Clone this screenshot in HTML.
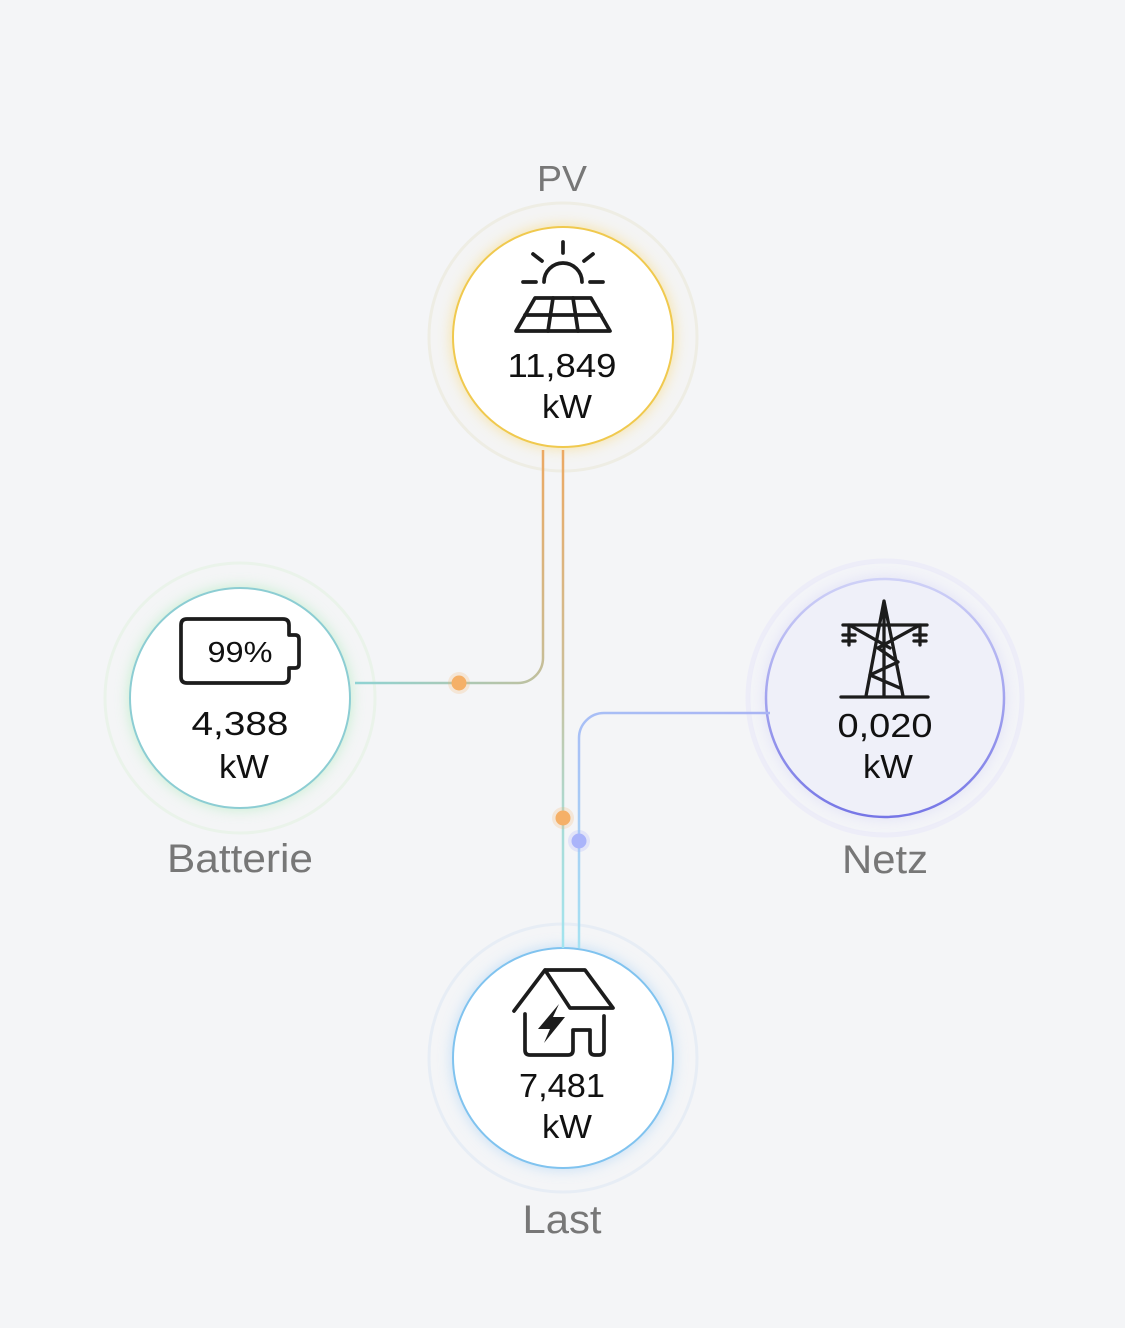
<!DOCTYPE html>
<html><head><meta charset="utf-8"><style>
html,body{margin:0;padding:0;background:#f4f5f7;}
svg{display:block;}
text{font-family:"Liberation Sans",sans-serif;}
</style></head><body>
<svg width="1125" height="1328" viewBox="0 0 1125 1328" xmlns="http://www.w3.org/2000/svg">
<defs>
  <filter id="blur" x="-30%" y="-30%" width="160%" height="160%"><feGaussianBlur stdDeviation="7"/></filter>
  <linearGradient id="g1" gradientUnits="userSpaceOnUse" x1="543" y1="450" x2="355" y2="683">
    <stop offset="0" stop-color="#eca963"/><stop offset="0.5" stop-color="#cdbb90"/><stop offset="1" stop-color="#8fd3d3"/>
  </linearGradient>
  <linearGradient id="g2" gradientUnits="userSpaceOnUse" x1="563" y1="450" x2="563" y2="948">
    <stop offset="0" stop-color="#eca963"/><stop offset="0.45" stop-color="#cdbf98"/><stop offset="0.75" stop-color="#a9dcd6"/><stop offset="1" stop-color="#a2e4f0"/>
  </linearGradient>
  <linearGradient id="g3" gradientUnits="userSpaceOnUse" x1="770" y1="713" x2="579" y2="948">
    <stop offset="0" stop-color="#a9b4f4"/><stop offset="0.5" stop-color="#a8c2f6"/><stop offset="1" stop-color="#a6e2f2"/>
  </linearGradient>
  <linearGradient id="netzStroke" x1="0" y1="0" x2="0" y2="1">
    <stop offset="0" stop-color="#cfd1f7"/><stop offset="1" stop-color="#7676e6"/>
  </linearGradient>
</defs>

<!-- outer rings -->
<circle cx="563" cy="337" r="134" fill="#f4f4f4" stroke="#eeede4" stroke-width="3"/>
<circle cx="240" cy="698" r="135" fill="#f4f5f6" stroke="#eaf3ea" stroke-width="3"/>
<circle cx="885" cy="698" r="137" fill="#f3f4f8" stroke="#ededf8" stroke-width="5"/>
<circle cx="563" cy="1058" r="134" fill="#f4f5f7" stroke="#e7edf5" stroke-width="3"/>

<!-- glows -->
<circle cx="563" cy="337" r="111" fill="#f8dd8a" filter="url(#blur)" opacity="0.8"/>
<circle cx="240" cy="698" r="111" fill="#b8ecc4" filter="url(#blur)" opacity="0.8"/>
<circle cx="885" cy="698" r="120" fill="#dcdcf6" filter="url(#blur)" opacity="0.8"/>
<circle cx="563" cy="1058" r="111" fill="#b6d8f6" filter="url(#blur)" opacity="0.8"/>

<!-- inner circles -->
<circle cx="563" cy="337" r="110" fill="#ffffff" stroke="#f0c94e" stroke-width="2"/>
<circle cx="240" cy="698" r="110" fill="#ffffff" stroke="#8ccdd3" stroke-width="2"/>
<circle cx="885" cy="698" r="119" fill="#eff0f9" stroke="url(#netzStroke)" stroke-width="2.5"/>
<circle cx="563" cy="1058" r="110" fill="#ffffff" stroke="#80c3ef" stroke-width="2"/>

<!-- connectors -->
<path d="M543 450 V658 A25 25 0 0 1 518 683 H355" fill="none" stroke="url(#g1)" stroke-width="2.5"/>
<path d="M563 450 V948" fill="none" stroke="url(#g2)" stroke-width="2.5"/>
<path d="M770 713 H604 A25 25 0 0 0 579 738 V948" fill="none" stroke="url(#g3)" stroke-width="2.5"/>

<!-- dots -->
<circle cx="459" cy="683" r="11" fill="#f5b068" opacity="0.22"/>
<circle cx="459" cy="683" r="7.5" fill="#f5b068"/>
<circle cx="563" cy="818" r="11" fill="#f5b068" opacity="0.22"/>
<circle cx="563" cy="818" r="7.5" fill="#f5b068"/>
<circle cx="579" cy="841" r="11" fill="#aab4fa" opacity="0.25"/>
<circle cx="579" cy="841" r="7.5" fill="#aab4fa"/>

<!-- PV icon -->
<g fill="none" stroke="#1c1c1c" stroke-width="3.7" stroke-linecap="round" stroke-linejoin="round">
  <path d="M544 282 A19 19 0 0 1 582 282"/>
  <path d="M563 242 V253 M533 254 L542 261 M593 254 L584 261 M523 282 H536 M590 282 H603"/>
  <path d="M535 298 H591 L610 331 H516 Z"/>
  <path d="M525 315 H601 M553 298 L548 331 M573 298 L578 331"/>
</g>

<!-- Battery icon -->
<path d="M187 619 H283 Q289 619 289 625 V635 H295 Q299 635 299 639 V664 Q299 668 295 668 H289 V677 Q289 683 283 683 H187 Q181 683 181 677 V625 Q181 619 187 619 Z" fill="none" stroke="#1c1c1c" stroke-width="3.7" stroke-linejoin="round"/>

<!-- Pylon icon -->
<g fill="none" stroke="#1c1c1c" stroke-width="3.3" stroke-linecap="round" stroke-linejoin="round">
  <path d="M884 601 L866 696 M884 601 L903 696 M884 603 V696"/>
  <path d="M841 697 H928"/>
  <path d="M843 625 H927"/>
  <path d="M849 625 V645 M843 635 H855 M843 641 H855"/>
  <path d="M920 625 V645 M914 635 H926 M914 641 H926"/>
  <path d="M851 626 L890 648 M918 626 L878 648"/>
  <path d="M878 648 L898 662 L870 675 L900 688"/>
</g>

<!-- House icon -->
<g fill="none" stroke="#1c1c1c" stroke-width="3.7" stroke-linecap="round" stroke-linejoin="round">
  <path d="M514 1011 L545 970 H585 L613 1008 H570 L545 970"/>
  <path d="M525 1014 V1050 Q525 1055 530 1055 H568 Q573 1055 573 1050 V1030 H590 V1050 Q590 1055 595 1055 H599 Q604 1055 604 1050 V1016"/>
</g>
<path d="M559 1004 L538 1029 L550 1029 L544 1043 L565 1017 L553 1017 Z" fill="#1c1c1c"/>

<!-- values -->
<g fill="#111" font-size="33" text-anchor="middle">
  <text x="562" y="377" textLength="109" lengthAdjust="spacingAndGlyphs">11,849</text>
  <text x="567" y="418" textLength="50" lengthAdjust="spacingAndGlyphs">kW</text>
  <text x="240" y="735" textLength="97" lengthAdjust="spacingAndGlyphs">4,388</text>
  <text x="244" y="778" textLength="50" lengthAdjust="spacingAndGlyphs">kW</text>
  <text x="885" y="737" textLength="95" lengthAdjust="spacingAndGlyphs">0,020</text>
  <text x="888" y="778" textLength="50" lengthAdjust="spacingAndGlyphs">kW</text>
  <text x="562" y="1097" textLength="86" lengthAdjust="spacingAndGlyphs">7,481</text>
  <text x="567" y="1138" textLength="50" lengthAdjust="spacingAndGlyphs">kW</text>
  <text x="240" y="662" font-size="29" textLength="65" lengthAdjust="spacingAndGlyphs">99%</text>
</g>

<!-- labels -->
<g fill="#777" text-anchor="middle">
  <text x="562" y="191" font-size="36" textLength="50" lengthAdjust="spacingAndGlyphs">PV</text>
  <text x="240" y="872" font-size="40" textLength="146" lengthAdjust="spacingAndGlyphs">Batterie</text>
  <text x="885" y="873" font-size="40" textLength="86" lengthAdjust="spacingAndGlyphs">Netz</text>
  <text x="562" y="1233" font-size="40" textLength="79" lengthAdjust="spacingAndGlyphs">Last</text>
</g>
</svg>
</body></html>
